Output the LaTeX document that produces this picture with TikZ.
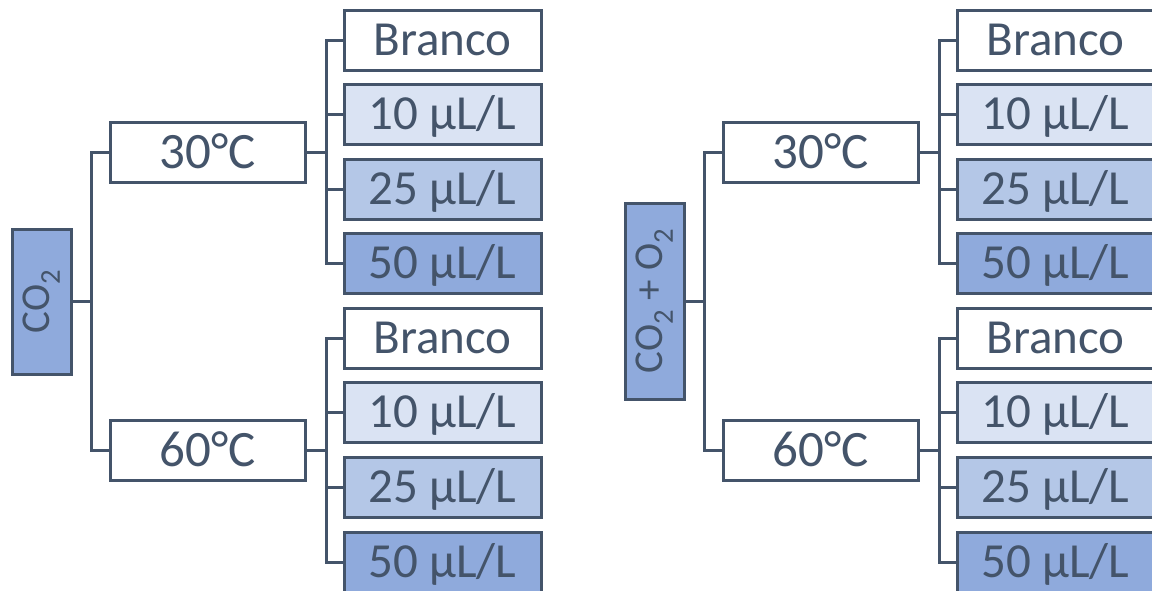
\documentclass[tikz,border=0pt]{standalone}
\usepackage{fontspec}
\setmainfont{Carlito}
\definecolor{dk}{HTML}{44546A}
\definecolor{fa}{HTML}{DAE3F3}
\definecolor{fb}{HTML}{B4C7E7}
\definecolor{fc}{HTML}{8FAADC}
\begin{document}
\begin{tikzpicture}[x=1pt,y=1pt,
  box/.style={draw=dk, line width=3pt, text=dk, inner sep=0pt, fill=white},
  leaf/.style={box, minimum width=197pt, minimum height=60pt, text height=30pt, text depth=0pt, font=\fontsize{49}{52}\selectfont},
  temp/.style={box, minimum width=195pt, minimum height=60pt, text height=32pt, text depth=0pt, font=\fontsize{51}{54}\selectfont},
  rootbox/.style={box, fill=fc, minimum width=59pt, font=\fontsize{41}{44}\selectfont},
  link/.style={draw=dk, line width=3pt}]
\useasboundingbox (0,0) rectangle (1152,-590);
\clip (0,0) rectangle (1152,-590);
% ---------- left tree ----------
\node[rootbox, minimum height=145pt] (Lr) at (41.5,-301.5) {\rotatebox{90}{CO\textsubscript{2}}};
\node[temp] (La) at (207.5,-152) {30°C};
\node[temp] (Lb) at (207.5,-450.5) {60°C};
\node[leaf] (La0) at (442.5,-40) {Branco};
\node[leaf, fill=fa] (La1) at (442.5,-114.6) {10 µL/L};
\node[leaf, fill=fb] (La2) at (442.5,-189.2) {25 µL/L};
\node[leaf, fill=fc] (La3) at (442.5,-263.7) {50 µL/L};
\node[leaf] (Lb0) at (442.5,-338.3) {Branco};
\node[leaf, fill=fa] (Lb1) at (442.5,-412.9) {10 µL/L};
\node[leaf, fill=fb] (Lb2) at (442.5,-487.4) {25 µL/L};
\node[leaf, fill=fc] (Lb3) at (442.5,-562) {50 µL/L};
% ---------- right tree ----------
\node[rootbox, minimum height=196pt] (Rr) at (654.5,-301) {\rotatebox{90}{CO\textsubscript{2} + O\textsubscript{2}}};
\node[temp] (Ra) at (820.5,-152) {30°C};
\node[temp] (Rb) at (820.5,-450.5) {60°C};
\node[leaf] (Ra0) at (1055.5,-40) {Branco};
\node[leaf, fill=fa] (Ra1) at (1055.5,-114.6) {10 µL/L};
\node[leaf, fill=fb] (Ra2) at (1055.5,-189.2) {25 µL/L};
\node[leaf, fill=fc] (Ra3) at (1055.5,-263.7) {50 µL/L};
\node[leaf] (Rb0) at (1055.5,-338.3) {Branco};
\node[leaf, fill=fa] (Rb1) at (1055.5,-412.9) {10 µL/L};
\node[leaf, fill=fb] (Rb2) at (1055.5,-487.4) {25 µL/L};
\node[leaf, fill=fc] (Rb3) at (1055.5,-562) {50 µL/L};
% ---------- connectors ----------
\foreach \s in {L,R}{
  \draw[link] (\s r.east) -- ++(19,0) |- (\s a.west);
  \draw[link] (\s r.east) -- ++(19,0) |- (\s b.west);
  \foreach \t in {a,b}{
    \foreach \i in {0,1,2,3}{
      \draw[link] (\s\t.east) -- ++(19.5,0) |- (\s\t\i.west);
    }
  }
}
\end{tikzpicture}
\end{document}
